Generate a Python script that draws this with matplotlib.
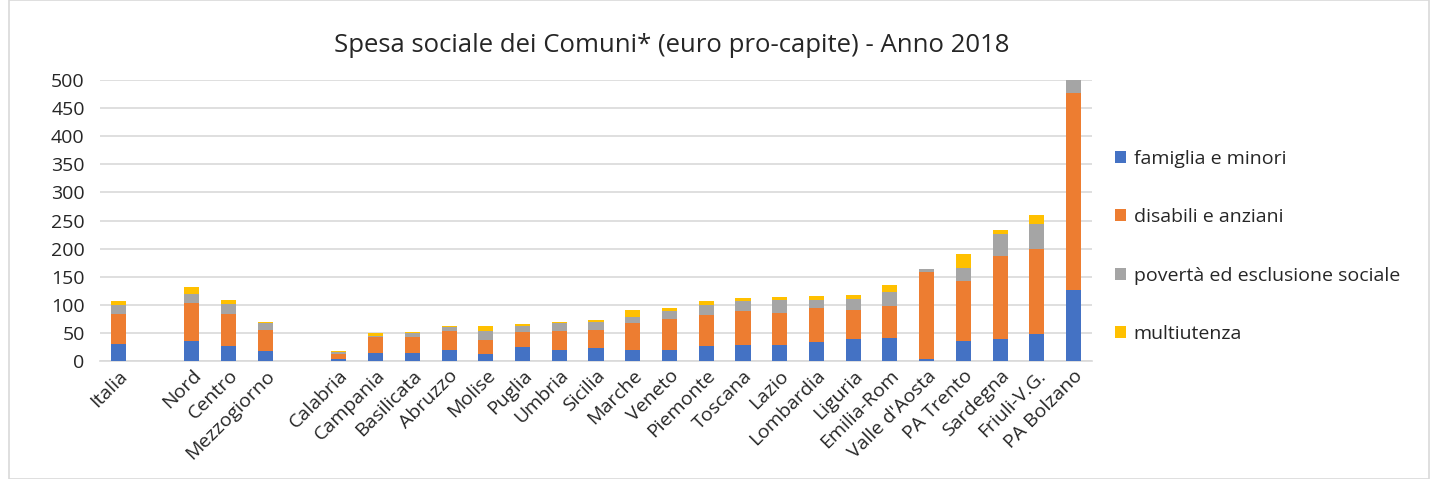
import numpy as np
import matplotlib.pyplot as plt
from matplotlib.patches import Rectangle

plt.rcParams['font.family'] = ['Open Sans', 'DejaVu Sans']

# categories ('' = empty slot, as in the original sheet)
categories = ['Italia', '', 'Nord', 'Centro', 'Mezzogiorno', '',
              'Calabria', 'Campania', 'Basilicata', 'Abruzzo', 'Molise', 'Puglia',
              'Umbria', 'Sicilia', 'Marche', 'Veneto', 'Piemonte', 'Toscana',
              'Lazio', 'Lombardia', 'Liguria', 'Emilia-Rom', "Valle d'Aosta",
              'PA Trento', 'Sardegna', 'Friuli-V.G.', 'PA Bolzano']

famiglia = [30, 0, 35, 27, 18, 0,
            4, 15, 15, 19, 12.5, 25,
            20, 22.5, 20, 20, 27, 29,
            29, 33, 39, 41.5, 3.5,
            36, 40, 48.5, 127]
disabili = [54, 0, 68, 56, 38, 0,
            8.5, 27, 27, 35, 25, 27,
            34, 32.5, 48, 54, 54, 60,
            56, 62, 52, 56, 154.5,
            107, 147, 150.5, 349]
poverta = [16, 0, 17, 18, 11, 0,
           3.5, 3, 8, 6, 16.5, 10.5,
           13, 15, 11, 14.5, 18, 17,
           23, 13, 19, 25, 5,
           23, 39, 44.5, 30]
multiutenza = [6, 0, 11, 7, 3, 0,
               2.5, 5, 2, 2, 8.5, 3.5,
               3, 2.5, 12, 6.5, 8, 6,
               6, 8.5, 8, 12.5, 1.5,
               25, 8, 16.5, 12]

series = [famiglia, disabili, poverta, multiutenza]
names = ['famiglia e minori', 'disabili e anziani',
         'povertà ed esclusione sociale', 'multiutenza']
colors = ['#4472C4', '#ED7D31', '#A5A5A5', '#FFC000']

fig = plt.figure(figsize=(14.35, 4.79), dpi=100)
ax = fig.add_axes([0.0697, 0.2463, 0.6913, 0.5867])

x = np.arange(len(categories))
bottom = np.zeros(len(categories))
for vals, name, c in zip(series, names, colors):
    vals = np.array(vals, dtype=float)
    ax.bar(x, vals, 0.41, bottom=bottom, color=c, label=name, zorder=3)
    bottom += vals

ax.set_xlim(-0.5, len(categories) - 0.5)
ax.set_ylim(0, 500)
ax.set_yticks(np.arange(0, 501, 50))
ax.grid(axis='y', color='#d9d9d9', linewidth=1.2, zorder=0)
for s in ['top', 'right', 'left']:
    ax.spines[s].set_visible(False)
ax.spines['bottom'].set_color('#d9d9d9')
ax.spines['bottom'].set_linewidth(1.2)
ax.tick_params(axis='y', length=0, labelsize=14, colors='#262626', pad=11)
ax.tick_params(axis='x', length=0, labelsize=14, colors='#262626', pad=4)
ax.set_xticks(x)
ax.set_xticklabels(categories, rotation=45, ha='right', rotation_mode='anchor')

fig.text(0.468, 0.905, 'Spesa sociale dei Comuni* (euro pro-capite) - Anno 2018',
         ha='center', va='center', fontsize=18.5, color='#262626')

leg = fig.legend(loc='upper left', bbox_to_anchor=(0.765, 0.724), frameon=False,
                 fontsize=14, handlelength=0.55, handleheight=0.55,
                 handletextpad=0.4, labelspacing=2.08)
for t in leg.get_texts():
    t.set_color('#262626')

fig.patches.append(Rectangle((0.006, 0.0), 0.99, 0.999, transform=fig.transFigure,
                             fill=False, edgecolor='#d9d9d9', linewidth=1.2))

fig.savefig('out.png', dpi=100)
